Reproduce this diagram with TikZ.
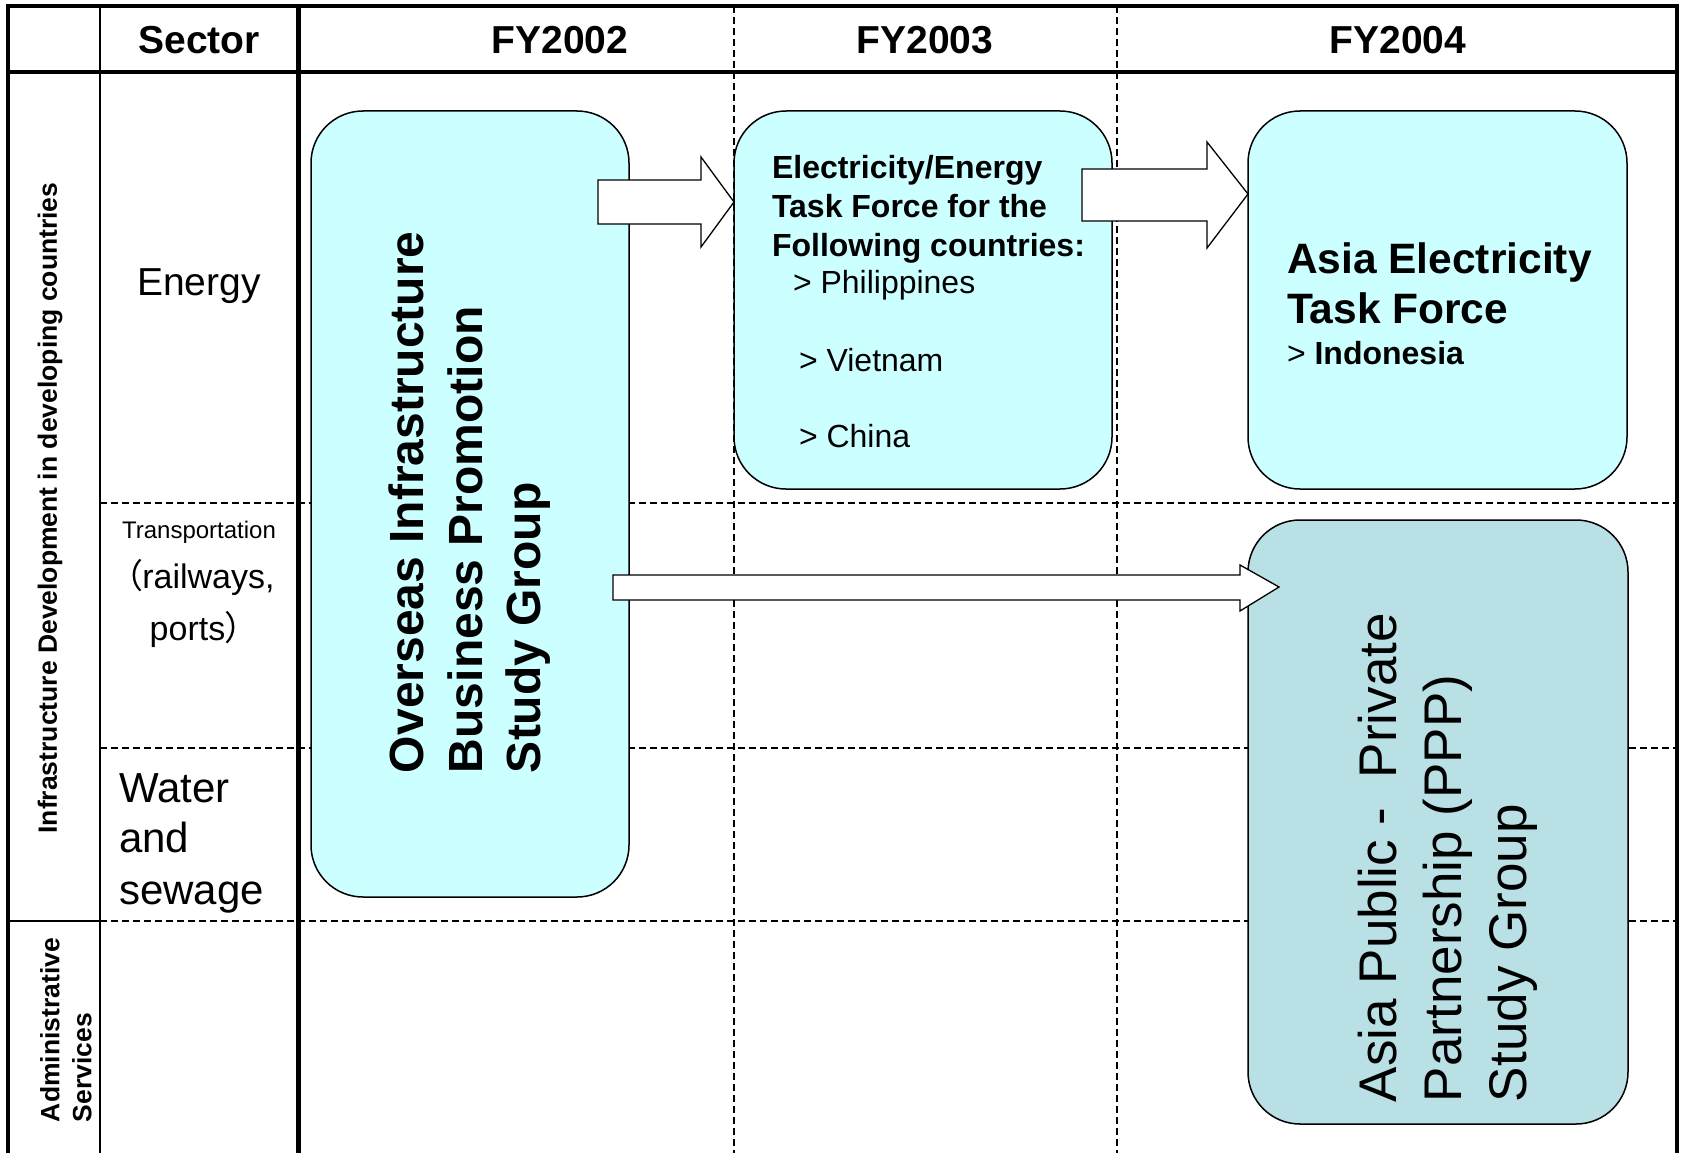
\documentclass[tikz,border=0pt]{standalone}
\usepackage{fontspec}
\setmainfont{Liberation Sans}
\newfontfamily\cjk[RawFeature=+palt]{Noto Sans CJK JP}
\newcommand\myfs[2]{\fontsize{#1}{#2}\selectfont}
\definecolor{cyanfill}{HTML}{CCFFFF}
\definecolor{pppfill}{HTML}{B9E0E4}
\begin{document}
\begin{tikzpicture}[x=1pt,y=-1pt,
  gridline/.style={line width=1.3pt, dash pattern=on 7pt off 4pt},
  borderline/.style={line width=4pt},
  box/.style={draw, line width=1.5pt, rounded corners=52pt, fill=cyanfill, inner sep=0pt},
  blockarrow/.style={draw, line width=1.3pt, fill=white, line join=miter},
  lbl/.style={inner sep=0pt, outer sep=0pt},
  hdr/.style={lbl, font=\bfseries\myfs{39}{47}}]
\useasboundingbox (0,0) rectangle (1683,1153);
% grid
\draw[gridline] (734,6) -- (734,1153);
\draw[gridline] (1117,6) -- (1117,1153);
\draw[gridline] (100,503) -- (1677,503);
\draw[gridline] (100,748) -- (1677,748);
\draw[gridline] (100,921) -- (1677,921);
\draw[line width=2pt] (8,921) -- (100,921);
\draw[line width=2pt] (100,6) -- (100,1153);
\draw[line width=5pt] (298,6) -- (298,1153);
\draw[borderline] (8,1153) -- (8,6.5) -- (1677,6.5) -- (1677,1153);
\draw[borderline] (8,72) -- (1677,72);
% boxes
\node[box, minimum width=318pt, minimum height=786pt] (osb) at (470,504) {};
\node[box, minimum width=378pt, minimum height=378pt] (elb) at (923,300) {};
\node[box, minimum width=379pt, minimum height=378pt] (aeb) at (1437.5,300) {};
\node[box, fill=pppfill, minimum width=380pt, minimum height=604pt] (ppb) at (1438,822) {};
% block arrows
\draw[blockarrow] (598,180) -- (701,180) -- (701,157) -- (734,202) -- (701,247) -- (701,224) -- (598,224) -- cycle;
\draw[blockarrow] (1082,169) -- (1207,169) -- (1207,142) -- (1248,194) -- (1207,248) -- (1207,221) -- (1082,221) -- cycle;
\draw[blockarrow] (613,575) -- (1240,575) -- (1240,565) -- (1279,587) -- (1240,611) -- (1240,600) -- (613,600) -- cycle;
% headers
\node[hdr, anchor=base] (sector) at (199,54) {Sector};
\node[hdr, anchor=base] (fy2) at (560,54) {FY2002};
\node[hdr, anchor=base] (fy3) at (925,54) {FY2003};
\node[hdr, anchor=base] (fy4) at (1398,54) {FY2004};
% left labels
\node[lbl, rotate=90, font=\bfseries\myfs{26.5}{32}] (infra) at (50,508) {Infrastructure Development in developing countries};
\node[lbl, rotate=90, anchor=west, align=left, font=\bfseries\myfs{26.5}{32}] (admin) at (66,1122) {Administrative\\Services};
% sectors
\node[lbl, anchor=base, font=\myfs{39}{47}] (energy) at (199,295) {Energy};
\node[lbl, anchor=base, font=\myfs{24}{29}] (transp) at (199,538) {Transportation};
\node[lbl, anchor=base, font=\myfs{34}{41}] (rail) at (200,588) {{\cjk （}railways,};
\node[lbl, anchor=base, font=\myfs{34}{41}] (ports) at (196,640) {ports{\cjk ）}};
\node[lbl, anchor=base west, font=\myfs{42}{50}] (water) at (119,802) {Water};
\node[lbl, anchor=base west, font=\myfs{42}{50}] (and) at (119,852) {and};
\node[lbl, anchor=base west, font=\myfs{42}{50}] (sewage) at (119,904) {sewage};
% box texts
\node[lbl, rotate=90, anchor=west, align=left, font=\bfseries\myfs{48}{58.5}] (ostext) at (470,773) {Overseas Infrastructure\\Business Promotion\\Study Group};
\node[lbl, anchor=base west, font=\bfseries\myfs{32}{39}] (el1) at (772,178) {Electricity/Energy};
\node[lbl, anchor=base west, font=\bfseries\myfs{32}{39}] (el2) at (772,217) {Task Force for the};
\node[lbl, anchor=base west, font=\bfseries\myfs{32}{39}] (el3) at (772,256) {Following countries:};
\node[lbl, anchor=base west, font=\myfs{32}{39}] (phil) at (793,293) {> Philippines};
\node[lbl, anchor=base west, font=\myfs{32}{39}] (viet) at (799,371) {> Vietnam};
\node[lbl, anchor=base west, font=\myfs{32}{39}] (china) at (799,447) {> China};
\node[lbl, anchor=base west, font=\bfseries\myfs{42.5}{50}] (ae1) at (1287,273) {Asia Electricity};
\node[lbl, anchor=base west, font=\bfseries\myfs{42.5}{50}] (ae2) at (1287,323) {Task Force};
\node[lbl, anchor=base west, font=\myfs{32}{39}] (indo) at (1287,364) {> \textbf{Indonesia}};
\node[lbl, rotate=90, anchor=west, align=left, font=\myfs{53}{65}] (ppptext) at (1448,1102) {Asia Public -\ \ Private\\Partnership (PPP)\\Study Group};
\end{tikzpicture}
\end{document}
